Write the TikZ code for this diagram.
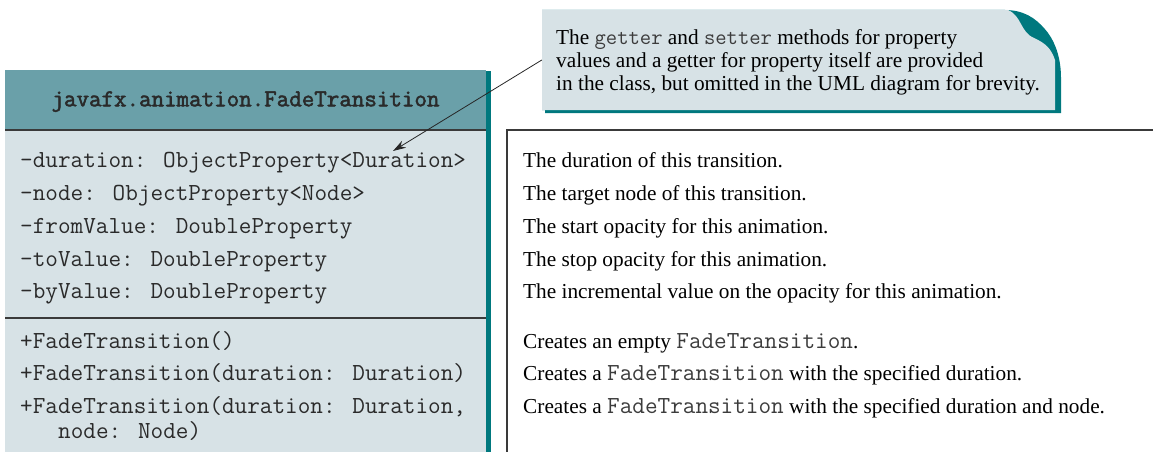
\documentclass[tikz,border=0pt]{standalone}
\usepackage{fontspec}
\setmainfont{Liberation Serif}
\newfontfamily\ttbold{Latin Modern Mono}[FakeBold=2.2]
\usetikzlibrary{arrows.meta}
\definecolor{hdr}{HTML}{6AA0A9}
\definecolor{pale}{HTML}{D7E2E6}
\definecolor{dteal}{HTML}{00787E}
\definecolor{rulec}{HTML}{3A3A3A}
\definecolor{ink}{HTML}{2A2A2A}
\definecolor{monoink}{HTML}{3C3C3C}
\newcommand{\cls}[1]{{\fontsize{24.5}{25}\ttfamily\color{monoink}#1}}
\newcommand{\ncls}[1]{{\fontsize{22}{23}\ttfamily\color{monoink}#1}}
\begin{document}
\begin{tikzpicture}[x=1pt,y=-1pt,
  attr/.style={anchor=mid west, inner sep=0pt, font=\fontsize{24.5}{25}\ttfamily, text=ink},
  desc/.style={anchor=mid west, inner sep=0pt, font=\fontsize{21.3}{25}\selectfont, text=black},
  sep/.style={rulec, line width=1.5pt},
  notetext/.style={anchor=north west, inner sep=0pt, align=left, font=\fontsize{21.3}{23}\selectfont, text=black}
 ]
\useasboundingbox (0,0) rectangle (1153,452);
% class box
\fill[hdr] (5,70) rectangle (486,130);
\fill[pale] (5,130) rectangle (486,452);
\fill[dteal] (486,71) rectangle (491,452);
\draw[sep] (5,130) -- (486,130);
\draw[sep] (5,318) -- (486,318);
\node[inner sep=0pt, anchor=mid, font=\fontsize{24.3}{25}\ttbold, text=ink] (title) at (245.5,104) {javafx.animation.FadeTransition};
% attributes
\node[attr] (a1) at (20,165) {-duration: ObjectProperty<Duration>};
\node[attr] (a2) at (20,198) {-node: ObjectProperty<Node>};
\node[attr] (a3) at (20,231) {-fromValue: DoubleProperty};
\node[attr] (a4) at (20,264) {-toValue: DoubleProperty};
\node[attr] (a5) at (20,296) {-byValue: DoubleProperty};
% methods
\node[attr] (m1) at (20,346) {+FadeTransition()};
\node[attr] (m2) at (20,378) {+FadeTransition(duration: Duration)};
\node[attr] (m3) at (20,411) {+FadeTransition(duration: Duration,};
\node[attr] (m3b) at (58,436) {node: Node)};
% description panel
\draw[rulec, line width=1.2pt] (507,452) -- (507,130) -- (1153,130);
\node[desc] (d1) at (523,165) {The duration of this transition.};
\node[desc] (d2) at (523,198) {The target node of this transition.};
\node[desc] (d3) at (523,231) {The start opacity for this animation.};
\node[desc] (d4) at (523,264) {The stop opacity for this animation.};
\node[desc] (d5) at (523,296) {The incremental value on the opacity for this animation.};
\node[desc] (d6) at (523,346) {Creates an empty \cls{FadeTransition}.};
\node[desc] (d7) at (523,378) {Creates a \cls{FadeTransition} with the specified duration.};
\node[desc] (d8) at (523,411) {Creates a \cls{FadeTransition} with the specified duration and node.};
% note
\fill[dteal] (545,13) -- (1008,13) .. controls (1043,13) and (1061,43) .. (1061,78) -- (1061,113) -- (545,113) -- cycle;
\fill[dteal] (542,10) -- (1005,10) .. controls (1040,10) and (1058,40) .. (1058,75) -- (1058,110) -- (542,110) -- cycle;
\fill[pale] (542,10) -- (1008,10) .. controls (1022,16) and (1020,32) .. (1034,38) .. controls (1045,43) and (1051,48) .. (1055,60) -- (1055,110) -- (542,110) -- cycle;
\node[minimum width=516pt, minimum height=100pt, inner sep=0pt] (note) at (800,60) {};
\node[notetext] (notetxt) at (556,29) {The \ncls{getter} and \ncls{setter} methods for property\\values and a getter for property itself are provided\\in the class, but omitted in the UML diagram for brevity.};
% arrow
\coordinate (tip) at (393,151);
\draw[black!85, line width=0.8pt, -{Stealth[length=13pt,width=8pt]}] (note.west) -- (tip);
\end{tikzpicture}
\end{document}
